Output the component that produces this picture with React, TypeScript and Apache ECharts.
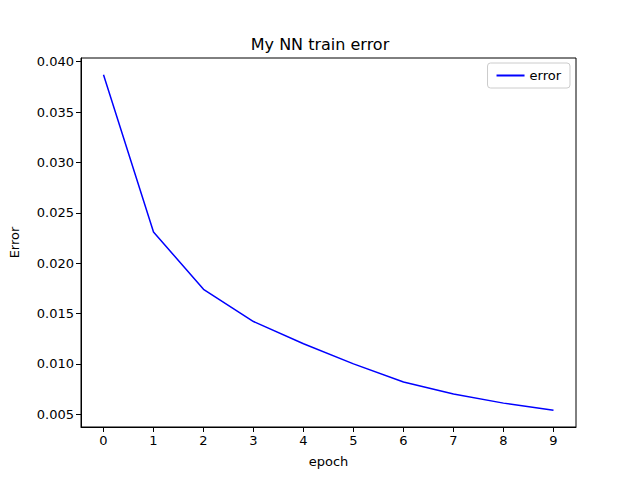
import { useEffect, useRef } from 'react';
import * as echarts from 'echarts';

const epochs = [0, 1, 2, 3, 4, 5, 6, 7, 8, 9];
const errors = [0.0387, 0.0231, 0.0174, 0.0142, 0.012, 0.01, 0.0082, 0.007, 0.0061, 0.0054];
const yTicks = [0.005, 0.01, 0.015, 0.02, 0.025, 0.03, 0.035, 0.04];

const FONT = 'DejaVu Sans';

export default function App() {
  const elRef = useRef<HTMLDivElement | null>(null);

  useEffect(() => {
    const el = elRef.current;
    if (!el) return;
    const chart = echarts.init(el, undefined, { renderer: 'svg' });
    chart.setOption({
      animation: false,
      backgroundColor: '#fff',
      textStyle: { fontFamily: FONT },
      title: {
        text: 'My NN train error',
        left: 'center',
        top: 31,
        textStyle: { fontFamily: FONT, fontSize: 16, fontWeight: 'normal', color: '#000' },
      },
      legend: {
        right: 70,
        top: 63,
        icon: 'path://M0,0 L28,0 L28,2 L0,2 Z',
        itemWidth: 28,
        itemHeight: 2,
        itemGap: 6,
        padding: [6, 9, 6, 9],
        borderColor: '#ccc',
        borderWidth: 1,
        borderRadius: 3,
        backgroundColor: '#fff',
        textStyle: { fontFamily: FONT, fontSize: 13, color: '#000' },
        data: ['error'],
      },
      grid: {
        left: 80,
        right: 64,
        top: 58,
        bottom: 53,
        show: true,
        borderColor: '#000',
        borderWidth: 1,
      },
      xAxis: {
        type: 'value',
        min: -0.45,
        max: 9.45,
        name: 'epoch',
        nameLocation: 'middle',
        nameGap: 28,
        nameTextStyle: { fontFamily: FONT, fontSize: 13, color: '#000' },
        splitLine: { show: false },
        axisLine: { show: true, onZero: false, lineStyle: { color: '#000' } },
        axisTick: { show: true, length: 5, inside: false, customValues: epochs, lineStyle: { color: '#000' } },
        axisLabel: {
          customValues: epochs,
          color: '#000',
          fontSize: 13,
          fontFamily: FONT,
          margin: 7,
        },
      },
      yAxis: {
        type: 'value',
        min: 0.00373,
        max: 0.04037,
        name: 'Error',
        nameLocation: 'middle',
        nameGap: 60,
        nameTextStyle: { fontFamily: FONT, fontSize: 13, color: '#000' },
        splitLine: { show: false },
        axisLine: { show: true, onZero: false, lineStyle: { color: '#000' } },
        axisTick: { show: true, length: 5, customValues: yTicks, lineStyle: { color: '#000' } },
        axisLabel: {
          customValues: yTicks,
          color: '#000',
          fontSize: 13,
          fontFamily: FONT,
          margin: 7,
          formatter: (v: number) => v.toFixed(3),
        },
      },
      series: [
        {
          name: 'error',
          type: 'line',
          data: epochs.map((e, i) => [e, errors[i]]),
          showSymbol: false,
          lineStyle: { color: '#0000ff', width: 1.5 },
          itemStyle: { color: '#0000ff' },
        },
      ],
    });
    return () => chart.dispose();
  }, []);

  return <div ref={elRef} style={{ width: 640, height: 480, margin: -8 }} />;
}
